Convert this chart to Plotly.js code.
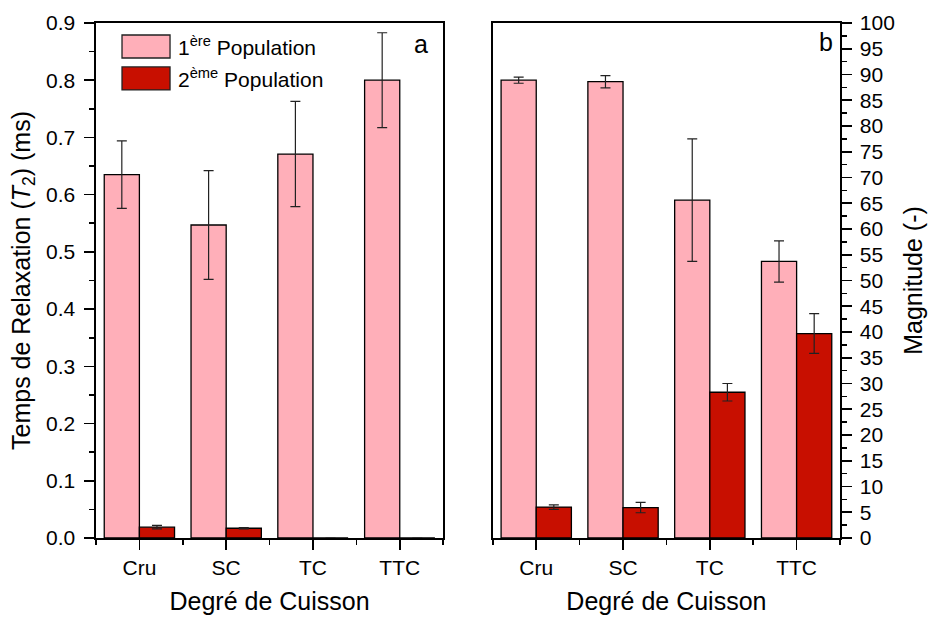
<!DOCTYPE html>
<html>
<head>
<meta charset="utf-8">
<script src="https://cdn.plot.ly/plotly-3.0.1.min.js"></script>
<style>html,body{margin:0;padding:0;background:#fff;}#chart{width:929px;height:617px;}</style>
</head>
<body>
<div id="chart"></div>
<script>
// Data
const categories = ["Cru", "SC", "TC", "TTC"];
const seriesNames = ["1<sup>ère</sup> Population", "2<sup>ème</sup> Population"];
// Panel a: relaxation time T2 (ms)
const t2Pop1 = [0.635, 0.547, 0.671, 0.800];
const t2Pop1Err = [0.059, 0.095, 0.092, 0.083];
const t2Pop2 = [0.019, 0.017, 0, 0];
const t2Pop2Err = [0.003, 0.001, 0, 0];
// Panel b: magnitude (-)
const magPop1 = [88.9, 88.6, 65.6, 53.7];
const magPop1Err = [0.6, 1.2, 11.9, 4.0];
const magPop2 = [6.0, 5.9, 28.3, 39.7];
const magPop2Err = [0.45, 1.0, 1.7, 3.85];
const yTicksA = [0, 0.1, 0.2, 0.3, 0.4, 0.5, 0.6, 0.7, 0.8, 0.9];
const yTicksB = [0,5,10,15,20,25,30,35,40,45,50,55,60,65,70,75,80,85,90,95,100];

const pink = "#FFAFB9", red = "#C80F00";
const xpos = categories.map((c, i) => i);
const fontFam = "Liberation Sans, Arial, sans-serif";

function barTrace(y, err, color, xa, ya) {
  return {
    type: "bar", x: xpos, y: y, xaxis: xa, yaxis: ya, showlegend: false,
    marker: {color: color, line: {color: "#000", width: 1.3}},
    error_y: {type: "data", array: err, visible: true, color: "#222", thickness: 1.2, width: 5},
    hoverinfo: "y"
  };
}

const data = [
  barTrace(t2Pop1, t2Pop1Err, pink, "x", "y"),
  barTrace(t2Pop2, t2Pop2Err, red, "x", "y"),
  barTrace(magPop1, magPop1Err, pink, "x2", "y2"),
  barTrace(magPop2, magPop2Err, red, "x2", "y2")
];

const axLine = {showline: true, linecolor: "#000", linewidth: 1.6, mirror: true, showgrid: false, zeroline: false};
const xCommon = Object.assign({}, axLine, {
  range: [-0.5, 3.5], tickvals: xpos, ticktext: categories, ticks: "outside", ticklen: 10, tickwidth: 1.6, tickcolor: "#000",
  minor: {tick0: 0.5, dtick: 1, ticks: "outside", ticklen: 5, tickwidth: 1.6, tickcolor: "#000"},
  tickfont: {size: 21, color: "#000", family: fontFam},
  title: {text: "Degré de Cuisson", font: {size: 25, color: "#000", family: fontFam}, standoff: 15}
});

const W = 743.7, H = 515.3, L = 96, B = 538.3;
const px = v => (v - L) / W;
const py = v => (B - v) / H;

const layout = {
  width: 929, height: 617,
  margin: {l: 96, r: 89.3, t: 23, b: 78.7, pad: 0},
  paper_bgcolor: "#fff", plot_bgcolor: "#fff",
  font: {family: fontFam, color: "#000"},
  barmode: "group", bargap: 0.19, bargroupgap: 0,
  showlegend: false,
  xaxis: Object.assign({}, xCommon, {domain: [0, 0.4666], anchor: "y"}),
  xaxis2: Object.assign({}, xCommon, {domain: [0.5334, 1], anchor: "y2"}),
  yaxis: Object.assign({}, axLine, {
    anchor: "x", range: [0, 0.9], tickvals: yTicksA, tickformat: ".1f",
    ticks: "outside", ticklen: 10, tickwidth: 1.6, tickcolor: "#000", ticklabelstandoff: 5,
    minor: {dtick: 0.05, ticks: "outside", ticklen: 5, tickwidth: 1.6, tickcolor: "#000"},
    tickfont: {size: 21, color: "#000", family: fontFam},
    title: {text: "Temps de Relaxation (<i>T</i><sub>2</sub>) (ms)", font: {size: 25, color: "#000", family: fontFam}, standoff: 8}
  }),
  yaxis2: Object.assign({}, axLine, {
    anchor: "x2", side: "right", range: [0, 100], tickvals: yTicksB,
    ticks: "outside", ticklen: 10, tickwidth: 1.6, tickcolor: "#000", ticklabelstandoff: 4,
    minor: {dtick: 2.5, ticks: "outside", ticklen: 5, tickwidth: 1.6, tickcolor: "#000"},
    tickfont: {size: 21, color: "#000", family: fontFam},
    title: {text: "Magnitude (-)", font: {size: 25, color: "#000", family: fontFam}, standoff: 10}
  }),
  shapes: [
    {type: "rect", xref: "paper", yref: "paper", x0: px(122), x1: px(170), y0: py(58), y1: py(35), fillcolor: pink, line: {color: "#222", width: 1.3}},
    {type: "rect", xref: "paper", yref: "paper", x0: px(122), x1: px(170), y0: py(90), y1: py(67), fillcolor: red, line: {color: "#222", width: 1.3}}
  ],
  annotations: [
    {xref: "paper", yref: "paper", x: px(176), y: py(46.5), xanchor: "left", yanchor: "middle", showarrow: false, text: seriesNames[0], font: {size: 21, color: "#000", family: fontFam}},
    {xref: "paper", yref: "paper", x: px(176), y: py(78.5), xanchor: "left", yanchor: "middle", showarrow: false, text: seriesNames[1], font: {size: 21, color: "#000", family: fontFam}},
    {xref: "paper", yref: "paper", x: px(421), y: py(44), xanchor: "center", yanchor: "middle", showarrow: false, text: "a", font: {size: 25, color: "#000", family: fontFam}},
    {xref: "paper", yref: "paper", x: px(826), y: py(42), xanchor: "center", yanchor: "middle", showarrow: false, text: "b", font: {size: 25, color: "#000", family: fontFam}}
  ]
};

Plotly.newPlot("chart", data, layout, {staticPlot: true, displayModeBar: false});
</script>
</body>
</html>
